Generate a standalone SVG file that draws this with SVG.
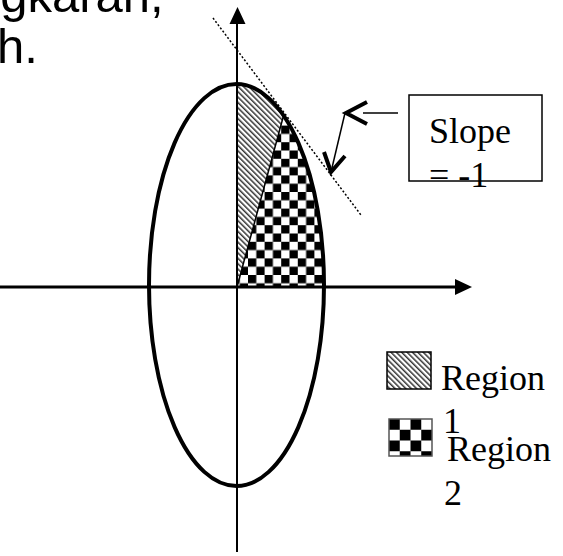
<svg xmlns="http://www.w3.org/2000/svg" width="563" height="556" viewBox="0 0 563 556">
<style>
.heading{font-family:"Liberation Sans",Arial,sans-serif;font-size:49px;fill:#000}
.lbl{font-family:"Liberation Serif","Times New Roman",serif;font-size:36px;fill:#000}
.axis{stroke:#000;fill:none}
.thin{stroke:#000;stroke-width:1.5;fill:none}
.head{stroke:#000;stroke-width:4;fill:none;stroke-linecap:butt}
</style>
<defs>
<pattern id="hatch" patternUnits="userSpaceOnUse" width="3.8" height="3.8" patternTransform="rotate(-45)">
<rect width="3.8" height="3.8" fill="#fff"/>
<rect width="1.5" height="3.8" fill="#333"/>
</pattern>
<pattern id="checker" patternUnits="userSpaceOnUse" x="248" y="275" width="16.6" height="16.6">
<rect width="16.6" height="16.6" fill="#fff"/>
<rect width="8.3" height="8.3" fill="#000"/>
<rect x="8.3" y="8.3" width="8.3" height="8.3" fill="#000"/>
</pattern>
<pattern id="checkerL" patternUnits="userSpaceOnUse" x="389" y="419" width="21.5" height="21.5">
<rect width="21.5" height="21.5" fill="#fff"/>
<rect width="10.75" height="10.75" fill="#000"/>
<rect x="10.75" y="10.75" width="10.75" height="10.75" fill="#000"/>
</pattern>
</defs>

<g id="heading">
<text class="heading" x="-27" y="12">ngkaran,</text>
<text class="heading" x="-3" y="63">h.</text>
</g>

<g id="regions">
<path id="region1" d="M237,287 L237,84 A87.5,201 0 0 1 284,114 Z" fill="url(#hatch)"/>
<path id="region2" d="M237,287 L284,114 A87.5,201 0 0 1 324,287 Z" fill="url(#checker)"/>
<line x1="237" y1="287" x2="284" y2="114" stroke="#000" stroke-width="1.5"/>
</g>

<g id="ellipse">
<ellipse cx="236.5" cy="285" rx="87.5" ry="201" fill="none" stroke="#000" stroke-width="4"/>
</g>

<g id="axes">
<line class="axis" x1="0" y1="287" x2="457" y2="287" stroke-width="3"/>
<path d="M455,279 L472,287 L455,295 Z" fill="#000"/>
<line class="axis" x1="237" y1="552" x2="237" y2="22" stroke-width="2"/>
<path d="M229.5,24 L237.5,7 L245.5,24 Z" fill="#000"/>
</g>

<g id="tangent">
<line x1="213" y1="18" x2="361" y2="215" stroke="#000" stroke-width="1.5" stroke-dasharray="2 2"/>
</g>

<g id="connectors">
<line class="thin" x1="363" y1="113" x2="398" y2="113"/>
<path class="head" d="M367,102 L346,113 L367,124"/>
<line class="thin" x1="345" y1="113" x2="331" y2="172"/>
<path class="head" d="M324,152 L331,172 L345,156"/>
</g>

<g id="slope-box">
<rect x="409" y="95" width="133" height="86" fill="none" stroke="#000" stroke-width="1.5"/>
<text class="lbl" x="429" y="143">Slope</text>
<text class="lbl" x="429" y="187">= -1</text>
</g>

<g id="legend-region1">
<rect x="387" y="352" width="44" height="37" fill="url(#hatch)" stroke="#000" stroke-width="1.5"/>
<text class="lbl" x="441" y="390">Region</text>
<text class="lbl" x="443" y="433">1</text>
</g>

<g id="legend-region2">
<rect x="389" y="419" width="43" height="37" fill="url(#checkerL)" stroke="#555" stroke-width="1.5"/>
<text class="lbl" x="447" y="461">Region</text>
<text class="lbl" x="444" y="505">2</text>
</g>
</svg>
